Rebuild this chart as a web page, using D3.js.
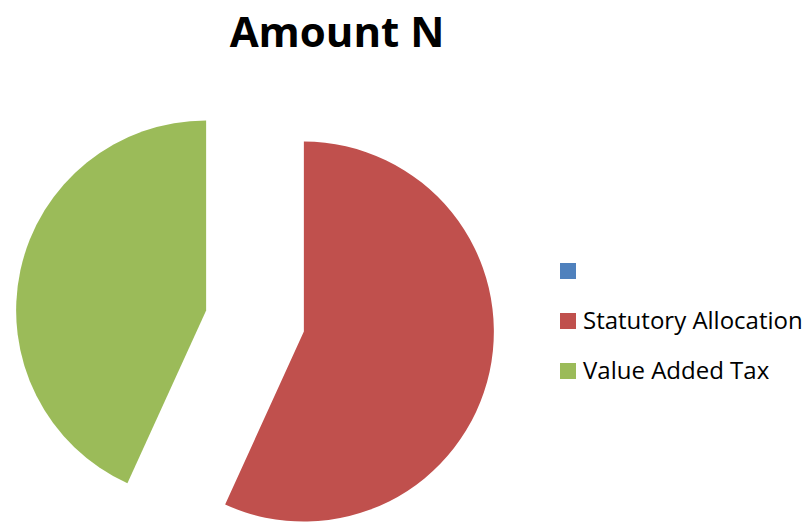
<!DOCTYPE html>
<html>
<head>
<meta charset="utf-8">
<script src="https://cdn.jsdelivr.net/npm/d3@7"></script>
<style>
  body { margin: 0; background: white; }
  text { font-family: "Open Sans", "Liberation Sans", sans-serif; }
</style>
</head>
<body>
<div class="chart"></div>
<script>
const width = 808;
const height = 522;

// data (shares of the pie)
const categories = ['', 'Statutory Allocation', 'Value Added Tax'];
const amounts = [0, 56.8, 43.2];
const colors = ['#4F81BD', '#C0504D', '#9BBB59'];

const svg = d3.select('div.chart').append('svg')
  .attr('width', width)
  .attr('height', height)
  .style('background-color', 'white');

// title
svg.append('text')
  .attr('x', 337)
  .attr('y', 47)
  .attr('text-anchor', 'middle')
  .attr('font-weight', 'bold')
  .attr('font-size', 42)
  .attr('fill', '#000')
  .text('Amount N');

// pie
const cx = 255;
const cy = 321;
const radius = 190;
const explode = 50;

const pie = d3.pie().sort(null).value(d => d.value);
const arc = d3.arc().innerRadius(0).outerRadius(radius);

const slices = pie(categories.map((c, i) => ({ name: c, value: amounts[i], color: colors[i] })));

svg.append('g')
  .attr('transform', `translate(${cx}, ${cy})`)
  .selectAll('path')
  .data(slices.filter(d => d.value > 0))
  .enter()
  .append('path')
  .attr('transform', (d) => {
    const mid = (d.startAngle + d.endAngle) / 2;
    return `translate(${Math.sin(mid) * explode}, ${-Math.cos(mid) * explode})`;
  })
  .attr('d', arc)
  .attr('fill', d => d.data.color);

// legend
const legend = svg.append('g').attr('transform', 'translate(560, 263)');
const items = legend.selectAll('g')
  .data(categories)
  .enter()
  .append('g')
  .attr('transform', (d, i) => `translate(0, ${i * 50})`);

items.append('rect')
  .attr('width', 16)
  .attr('height', 16)
  .attr('fill', (d, i) => colors[i]);

items.append('text')
  .attr('x', 23)
  .attr('y', 16)
  .attr('font-size', 24)
  .attr('fill', '#000')
  .text(d => d);
</script>
</body>
</html>
